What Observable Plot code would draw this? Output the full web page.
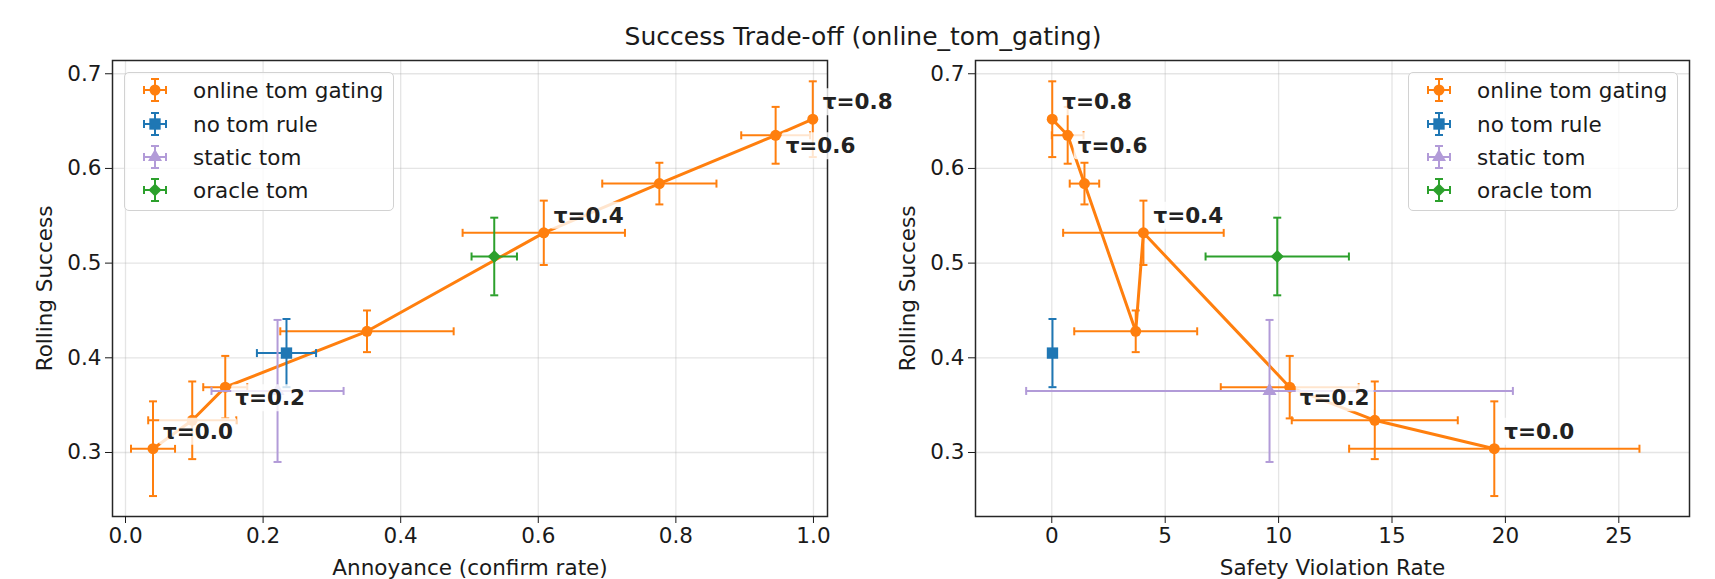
<!DOCTYPE html>
<html>
<head>
<meta charset="utf-8">
<script src="https://cdn.jsdelivr.net/npm/d3@7"></script>
<script src="https://cdn.jsdelivr.net/npm/@observablehq/plot@0.6"></script>
<style>
  html, body { margin: 0; padding: 0; background: #fff; overflow: hidden; }
  #wrap { position: relative; width: 1715px; height: 579px; font-family: "DejaVu Sans", sans-serif; color: #1a1a1a; }
  #title { position: absolute; top: 22px; left: 0; width: 1726px; text-align: center; font-size: 25px; line-height: 29px; white-space: nowrap; z-index: 3; }
  #row { position: absolute; top: 48px; left: 0; display: flex; }
  #row svg { display: block; overflow: visible; background: transparent !important; }
  .legend { position: absolute; box-sizing: border-box; background: rgba(255,255,255,0.8); border: 1.3px solid #d2d2d2; border-radius: 5px; z-index: 2; }
  .legend .item { position: absolute; left: 0; height: 30px; width: 100%; }
  .legend .item svg { position: absolute; top: 0; }
  .legend .item span { position: absolute; font-size: 21.5px; line-height: 30px; top: 1px; white-space: nowrap; }
</style>
</head>
<body>
<div id="wrap">
  <div id="title">Success Trade-off (online_tom_gating)</div>
  <div id="row"></div>
</div>
<script>
// ---------- data ----------
const taus = [0.0, 0.1, 0.2, 0.3, 0.4, 0.5, 0.6, 0.8];
const tauLabels = ["τ=0.0", "", "τ=0.2", "", "τ=0.4", "", "τ=0.6", "τ=0.8"];
const onlineSuccess      = [0.304, 0.334, 0.369, 0.428, 0.532, 0.584, 0.635, 0.652];
const onlineSuccessErr   = [0.050, 0.041, 0.033, 0.022, 0.034, 0.022, 0.030, 0.040];
const onlineAnnoyance    = [0.040, 0.097, 0.145, 0.351, 0.608, 0.776, 0.945, 0.999];
const onlineAnnoyanceErr = [0.032, 0.064, 0.032, 0.126, 0.118, 0.083, 0.050, 0.000];
const onlineViolation    = [19.51, 14.24, 10.49, 3.70, 4.04, 1.44, 0.70, 0.02];
const onlineViolationErr = [6.40, 3.66, 3.04, 2.71, 3.54, 0.65, 0.70, 0.00];

const baselineMethods       = ["no tom rule", "static tom", "oracle tom"];
const baselineSuccess       = [0.405, 0.365, 0.507];
const baselineSuccessErr    = [0.036, 0.075, 0.041];
const baselineAnnoyance     = [0.234, 0.221, 0.536];
const baselineAnnoyanceErr  = [0.043, 0.096, 0.033];
const baselineViolation     = [0.03, 9.60, 9.94];
const baselineViolationErr  = [0.00, 10.73, 3.16];

const legendLabels = ["online tom gating", "no tom rule", "static tom", "oracle tom"];
const yTicks = [0.3, 0.4, 0.5, 0.6, 0.7];
const annoyanceTicks = [0.0, 0.2, 0.4, 0.6, 0.8, 1.0];
const violationTicks = [0, 5, 10, 15, 20, 25];

// ---------- styles ----------
const colors = {"online tom gating": "#ff7f0e", "no tom rule": "#1f77b4", "static tom": "#b29bd8", "oracle tom": "#2ca02c"};
const symbolNames = {"online tom gating": "circle", "no tom rule": "square", "static tom": "triangle", "oracle tom": "diamond2"};
const markerR = {"online tom gating": 5.5, "no tom rule": 6.4, "static tom": 5.2, "oracle tom": 5.9};
const CAP = 4;
const FS = 21.5;
const capV = {draw(ctx) { ctx.moveTo(0, -CAP); ctx.lineTo(0, CAP); }};
const capH = {draw(ctx) { ctx.moveTo(-CAP, 0); ctx.lineTo(CAP, 0); }};
const yDomain = [0.2324, 0.7140];
const H = 531, MT = 12, MB = 63;

function buildChart({xs, xes, bxs, bxes, xDomain, xTicks, xFormat, xLabel, width, marginLeft, marginRight}) {
  const online = taus.map((t, i) => ({method: "online tom gating", tau: t, x: xs[i], xe: xes[i], y: onlineSuccess[i], ye: onlineSuccessErr[i], label: tauLabels[i]}));
  const base = baselineMethods.map((m, i) => ({method: m, x: bxs[i], xe: bxes[i], y: baselineSuccess[i], ye: baselineSuccessErr[i]}));
  const series = [online, ...base.map(d => [d])];
  const grid = {stroke: "#b0b0b0", strokeOpacity: 0.33, strokeWidth: 1.3};
  const marks = [Plot.gridX(xTicks, grid), Plot.gridY(yTicks, grid)];
  for (const rows of series) {
    const m = rows[0].method, c = colors[m];
    const eb = {stroke: c, strokeWidth: 2};
    const cp = {stroke: c, strokeWidth: 2, fill: "none"};
    marks.push(
      Plot.ruleY(rows, {y: "y", x1: d => d.x - d.xe, x2: d => d.x + d.xe, ...eb}),
      Plot.ruleX(rows, {x: "x", y1: d => d.y - d.ye, y2: d => d.y + d.ye, ...eb}),
      Plot.dot(rows, {x: d => d.x - d.xe, y: "y", symbol: capV, ...cp}),
      Plot.dot(rows, {x: d => d.x + d.xe, y: "y", symbol: capV, ...cp}),
      Plot.dot(rows, {x: "x", y: d => d.y - d.ye, symbol: capH, ...cp}),
      Plot.dot(rows, {x: "x", y: d => d.y + d.ye, symbol: capH, ...cp})
    );
    if (rows.length > 1) marks.push(Plot.line(d3.sort(rows, d => d.x), {x: "x", y: "y", stroke: c, strokeWidth: 3}));
    marks.push(Plot.dot(rows, {x: "x", y: "y", symbol: symbolNames[m], r: markerR[m], fill: c, stroke: "none"}));
  }
  marks.push(Plot.frame({stroke: "#262626", strokeWidth: 1.5}));
  marks.push(Plot.axisX(xTicks, {tickFormat: xFormat, tickSize: 7, tickPadding: 4, label: xLabel, labelAnchor: "center", labelOffset: 58, labelArrow: "none"}));
  marks.push(Plot.axisY(yTicks, {tickFormat: d3.format(".1f"), tickSize: 7, tickPadding: 4, label: "Rolling Success", labelAnchor: "center", labelOffset: 76, labelArrow: "none"}));
  const labelled = online.filter(d => d.label);
  const txt = {x: "x", y: "y", text: "label", textAnchor: "start", lineAnchor: "bottom", dx: 10, fontWeight: "bold", fontSize: FS, fill: "#222"};
  marks.push(Plot.text(labelled.filter((d, k) => k % 2 === 0), {...txt, dy: -10}));
  marks.push(Plot.text(labelled.filter((d, k) => k % 2 === 1), {...txt, dy: 18}));
  return Plot.plot({
    width, height: H, marginTop: MT, marginBottom: MB, marginLeft, marginRight,
    x: {domain: xDomain}, y: {domain: yDomain},
    style: {fontFamily: "DejaVu Sans, sans-serif", fontSize: FS + "px", color: "#1a1a1a", background: "transparent", overflow: "visible"},
    marks
  });
}

function addLabelBoxes(svg) {
  svg.querySelectorAll('g[aria-label="text"] text').forEach(t => {
    const bb = t.getBBox();
    const r = document.createElementNS("http://www.w3.org/2000/svg", "rect");
    r.setAttribute("x", bb.x - 4);
    r.setAttribute("y", bb.y - 1);
    r.setAttribute("width", bb.width + 8);
    r.setAttribute("height", bb.height + 2);
    r.setAttribute("rx", 3);
    r.setAttribute("fill", "white");
    r.setAttribute("fill-opacity", 0.8);
    r.setAttribute("stroke", "none");
    const tr = t.getAttribute("transform");
    if (tr) r.setAttribute("transform", tr);
    t.parentNode.insertBefore(r, t);
  });
}

function legendSymbol(name) {
  const c = colors[name], L = 11;
  const symMap = {circle: d3.symbolCircle, square: d3.symbolSquare, triangle: d3.symbolTriangle, diamond2: d3.symbolDiamond2};
  const r = markerR[name];
  const path = d3.symbol(symMap[symbolNames[name]], Math.PI * r * r)();
  const ln = (x1, y1, x2, y2) => `<line x1="${x1}" y1="${y1}" x2="${x2}" y2="${y2}" stroke="${c}" stroke-width="2"/>`;
  return `<svg width="40" height="30" viewBox="-20 -15 40 30" style="left:10px">` +
    ln(-L, 0, L, 0) + ln(0, -L, 0, L) +
    ln(-L, -CAP, -L, CAP) + ln(L, -CAP, L, CAP) + ln(-CAP, -L, CAP, -L) + ln(-CAP, L, CAP, L) +
    `<path d="${path}" fill="${c}"/></svg>`;
}

function makeLegend(left, top, width) {
  const div = document.createElement("div");
  div.className = "legend";
  div.style.left = left + "px";
  div.style.top = top + "px";
  div.style.width = width + "px";
  div.style.height = "139px";
  legendLabels.forEach((name, i) => {
    const item = document.createElement("div");
    item.className = "item";
    item.style.top = (18.4 + i * 33.3 - 15 - 1) + "px";
    item.innerHTML = legendSymbol(name) + `<span style="left:68px">${name}</span>`;
    div.appendChild(item);
  });
  document.getElementById("wrap").appendChild(div);
}

const row = document.getElementById("row");
const left = buildChart({
  xs: onlineAnnoyance, xes: onlineAnnoyanceErr, bxs: baselineAnnoyance, bxes: baselineAnnoyanceErr,
  xDomain: [-0.0189, 1.0204], xTicks: annoyanceTicks, xFormat: d3.format(".1f"), xLabel: "Annoyance (confirm rate)",
  width: 857, marginLeft: 112, marginRight: 30
});
const right = buildChart({
  xs: onlineViolation, xes: onlineViolationErr, bxs: baselineViolation, bxes: baselineViolationErr,
  xDomain: [-3.364, 28.117], xTicks: violationTicks, xFormat: d3.format("d"), xLabel: "Safety Violation Rate",
  width: 858, marginLeft: 118, marginRight: 26
});
row.appendChild(left);
row.appendChild(right);
addLabelBoxes(left);
addLabelBoxes(right);
makeLegend(124, 72, 270);
makeLegend(1408, 72, 270);
</script>
</body>
</html>
